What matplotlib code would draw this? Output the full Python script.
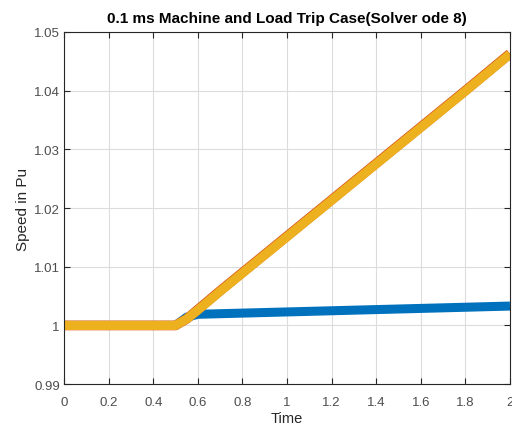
import matplotlib
matplotlib.use('Agg')
import matplotlib.pyplot as plt

plt.rcParams['font.family'] = ['Liberation Sans', 'DejaVu Sans']

# machine speed (blue)
t_blue = [0, 0.1, 0.2, 0.3, 0.4, 0.5, 0.55, 0.6, 0.8, 1.0, 1.2, 1.4, 1.6, 1.8, 2.0]
w_blue = [1.0, 1.0, 1.0, 1.0, 1.0, 1.0, 1.0014, 1.0019, 1.0021, 1.0023, 1.0025, 1.0027, 1.0029, 1.0031, 1.0033]

# load trip speed (orange, yellow on top)
t_load = [0, 0.1, 0.2, 0.3, 0.4, 0.5, 0.55, 0.6, 0.7, 0.8, 1.0, 1.2, 1.4, 1.6, 1.8, 2.0]
w_orange = [1.0, 1.0, 1.0, 1.0, 1.0, 1.0, 1.0011, 1.0027, 1.0059, 1.0090, 1.0152, 1.0214, 1.0276, 1.0338, 1.0400, 1.0463]
w_yellow = [1.0, 1.0, 1.0, 1.0, 1.0, 1.0, 1.0011, 1.0026, 1.0058, 1.0089, 1.0151, 1.0213, 1.0275, 1.0337, 1.0399, 1.0462]

xticks = [0, 0.2, 0.4, 0.6, 0.8, 1, 1.2, 1.4, 1.6, 1.8, 2]
yticks = [0.99, 1, 1.01, 1.02, 1.03, 1.04, 1.05]

fig = plt.figure(figsize=(5.12, 4.27), dpi=100)
ax = fig.add_axes([0.125, 0.098, 0.871, 0.825])

ax.plot(t_blue, w_blue, color='#0072BD', lw=6.5, solid_capstyle='butt')
ax.plot(t_load, w_orange, color='#D95319', lw=7, solid_capstyle='butt')
ax.plot(t_load, w_yellow, color='#EDB120', lw=6.6, solid_capstyle='butt')

ax.set_xlim(0, 2)
ax.set_ylim(0.99, 1.05)
ax.set_xticks(xticks)
ax.set_xticklabels(['0', '0.2', '0.4', '0.6', '0.8', '1', '1.2', '1.4', '1.6', '1.8', '2'])
ax.set_yticks(yticks)
ax.set_yticklabels(['0.99', '1', '1.01', '1.02', '1.03', '1.04', '1.05'])
ax.grid(True, color='#dcdcdc', lw=0.8)
ax.tick_params(direction='in', top=True, right=True, labelsize=9.5, length=4,
               color='#262626', labelcolor='#4d4d4d')
ax.tick_params(axis='x', pad=8.5)
ax.tick_params(axis='y', pad=3)
for s in ax.spines.values():
    s.set_color('#262626')
    s.set_linewidth(0.8)

ax.set_xlabel('Time', fontsize=10.5, labelpad=2.5, color='#262626')
ax.set_ylabel('Speed in Pu', fontsize=11, labelpad=3, color='#262626')
ax.set_title('0.1 ms Machine and Load Trip Case(Solver ode 8)', fontsize=11,
             fontweight='bold', pad=7)

fig.savefig('out.png', dpi=100)
